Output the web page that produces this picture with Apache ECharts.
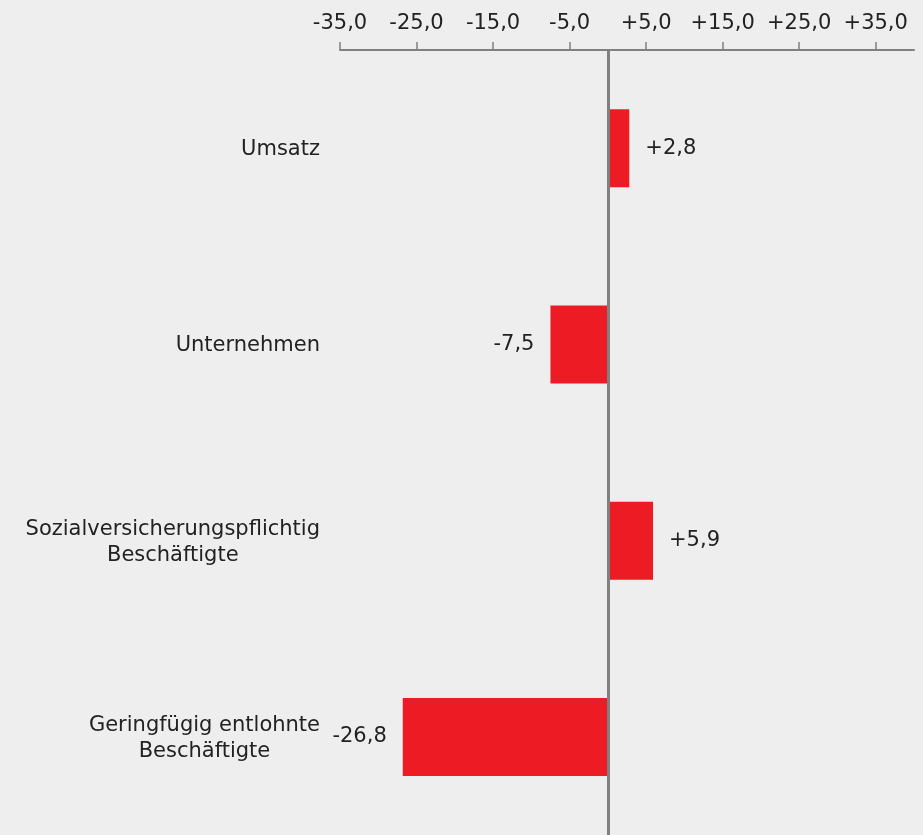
<!DOCTYPE html>
<html>
<head>
<meta charset="utf-8">
<script src="https://cdn.jsdelivr.net/npm/echarts@6/dist/echarts.min.js"></script>
<style>
html,body{margin:0;padding:0;background:#eeeeee;}
#chart{width:923px;height:835px;}
</style>
</head>
<body>
<div id="chart"></div>
<script>
var categories = ['Umsatz', 'Unternehmen', 'Sozialversicherungspflichtig\nBeschäftigte', 'Geringfügig entlohnte\nBeschäftigte'];
var values = [2.8, -7.5, 5.9, -26.8];
var tickValues = [-35, -25, -15, -5, 5, 15, 25, 35];

function fmt(v) {
  var s = Math.abs(v).toFixed(1).replace('.', ',');
  return (v > 0 ? '+' : (v < 0 ? '-' : '')) + s;
}

var FS = 21;
var chart = echarts.init(document.getElementById('chart'), null, {renderer: 'canvas'});
chart.setOption({
  backgroundColor: '#eeeeee',
  animation: false,
  textStyle: {fontFamily: 'DejaVu Sans'},
  grid: {left: 340, right: 9, top: 50, bottom: -3, containLabel: false},
  xAxis: {
    type: 'value',
    position: 'top',
    min: -35,
    max: 40,
    interval: 5,
    axisLine: {show: true, lineStyle: {color: '#808080', width: 2}},
    axisTick: {show: true, length: 8, inside: false, lineStyle: {color: '#808080', width: 1.5}, customValues: tickValues},
    axisLabel: {
      show: true, margin: 16, fontSize: FS, color: '#222222', fontFamily: 'DejaVu Sans',
      customValues: tickValues,
      formatter: function (v) { return fmt(v); }
    },
    splitLine: {show: false}
  },
  yAxis: {
    type: 'category',
    inverse: true,
    data: categories,
    axisLine: {show: false, onZero: false},
    axisTick: {show: false},
    axisLabel: {
      margin: 20, fontSize: FS, color: '#222222', fontFamily: 'DejaVu Sans', lineHeight: 26,
      formatter: function (v) {
        return v.split('\n').map(function (l) { return '{c|' + l + '}'; }).join('\n');
      },
      rich: {c: {align: 'center', fontSize: FS, lineHeight: 26, color: '#222222', fontFamily: 'DejaVu Sans', padding: [3, 0, 0, 0]}}
    }
  },
  series: [{
    type: 'bar',
    data: values.map(function (v) {
      return {value: v, label: {position: v >= 0 ? 'right' : 'left'}};
    }),
    barWidth: 78,
    itemStyle: {color: '#ED1C24'},
    label: {
      show: true, distance: 16, fontSize: FS, color: '#222222', fontFamily: 'DejaVu Sans',
      formatter: function (p) { return fmt(p.value); }
    },
    markLine: {
      silent: true,
      symbol: 'none',
      label: {show: false},
      lineStyle: {color: '#808080', width: 3, type: 'solid'},
      data: [{xAxis: 0}]
    }
  }]
});
</script>
</body>
</html>
